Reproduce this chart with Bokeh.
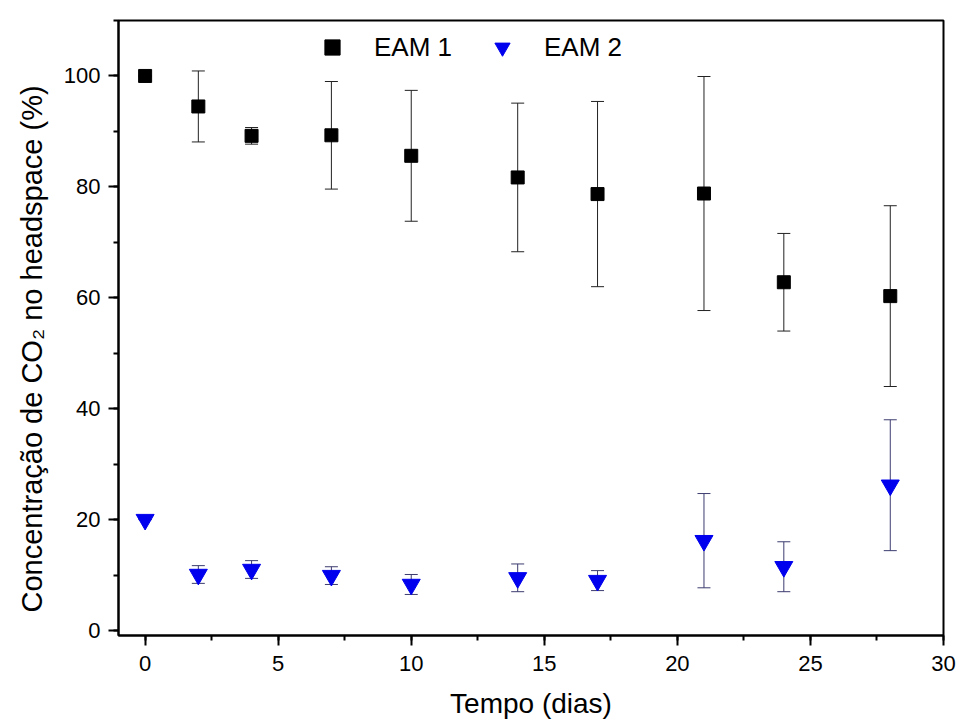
from bokeh.plotting import figure
from bokeh.models import (ColumnDataSource, Whisker, TeeHead, Range1d,
                          SingleIntervalTicker, Legend, LegendItem, Title)
from bokeh.embed import file_html
from bokeh.resources import INLINE

# ---- data ----
days = [0, 2, 4, 7, 10, 14, 17, 21, 24, 28]
eam1 = [100.0, 94.5, 89.2, 89.3, 85.6, 81.7, 78.7, 78.8, 62.8, 60.3]
eam1_err = [0.0, 6.4, 1.5, 9.7, 11.8, 13.4, 16.7, 21.1, 8.8, 16.3]
eam2 = [20.0, 10.1, 11.0, 9.9, 8.3, 9.5, 9.0, 16.2, 11.5, 26.2]
eam2_err = [0.0, 1.6, 1.6, 1.6, 1.8, 2.5, 1.8, 8.5, 4.5, 11.8]
series_names = ["EAM 1", "EAM 2"]
x_title = "Tempo (dias)"
y_title = "Concentração de CO\u2082 no headspace (%)"

FONT = "Liberation Sans"

src1 = ColumnDataSource(dict(x=days, y=eam1,
                             upper=[v + e for v, e in zip(eam1, eam1_err)],
                             lower=[v - e for v, e in zip(eam1, eam1_err)]))
src2 = ColumnDataSource(dict(x=days, y=eam2,
                             upper=[v + e for v, e in zip(eam2, eam2_err)],
                             lower=[v - e for v, e in zip(eam2, eam2_err)]))

p = figure(width=958, height=725, x_range=Range1d(-1, 30), y_range=Range1d(-0.9, 110),
           output_backend="svg", toolbar_location=None,
           min_border_left=118, min_border_right=15, min_border_top=20, min_border_bottom=90)
p.grid.visible = False
p.outline_line_color = "black"
p.outline_line_width = 2
p.background_fill_color = "white"
p.border_fill_color = "white"

for ax in (p.xaxis[0], p.yaxis[0]):
    ax.axis_line_width = 2
    ax.axis_line_color = "black"
    ax.major_tick_line_width = 2
    ax.minor_tick_line_width = 2
    ax.major_tick_in = 0
    ax.minor_tick_in = 0
    ax.major_tick_out = 10
    ax.minor_tick_out = 5
    ax.major_label_text_font = FONT
    ax.major_label_text_font_size = "22px"
    ax.major_label_text_color = "black"

p.xaxis.ticker = SingleIntervalTicker(interval=5, num_minor_ticks=2)
p.yaxis.ticker = SingleIntervalTicker(interval=20, num_minor_ticks=2)
p.xaxis.major_label_standoff = 10
p.yaxis.major_label_standoff = 8

p.xaxis.axis_label = x_title
p.xaxis.axis_label_text_font = FONT
p.xaxis.axis_label_text_font_style = "normal"
p.xaxis.axis_label_text_font_size = "28px"
p.xaxis.axis_label_text_color = "black"
p.xaxis.axis_label_standoff = 14

p.add_layout(Title(text=y_title, align="left", offset=23, text_font=FONT,
                   text_font_size="29px", text_font_style="normal",
                   text_color="black", standoff=26), "left")

# error bars
w1 = Whisker(source=src1, base="x", upper="upper", lower="lower",
             line_color="#222222", line_width=1, level="underlay",
             upper_head=TeeHead(size=13, line_color="#222222", line_width=1),
             lower_head=TeeHead(size=13, line_color="#222222", line_width=1))
w2 = Whisker(source=src2, base="x", upper="upper", lower="lower",
             line_color="#3c3c70", line_width=1, level="underlay",
             upper_head=TeeHead(size=13, line_color="#3c3c70", line_width=1),
             lower_head=TeeHead(size=13, line_color="#3c3c70", line_width=1))
p.add_layout(w1)
p.add_layout(w2)

r1 = p.scatter("x", "y", source=src1, marker="square", size=13,
               fill_color="black", line_color="black")
r2 = p.scatter("x", "y", source=src2, marker="inverted_triangle", size=18,
               fill_color="#0000ee", line_color="#0000ee")

legend = Legend(items=[LegendItem(label=series_names[0], renderers=[r1]),
                       LegendItem(label=series_names[1], renderers=[r2])],
                orientation="horizontal", location=(195, 569),
                glyph_width=38, glyph_height=38, label_standoff=23, spacing=31,
                padding=0, margin=0, border_line_alpha=0, background_fill_alpha=0,
                label_text_font=FONT, label_text_font_size="26px",
                label_text_color="black")
p.add_layout(legend)

open("out.html", "w").write(file_html(p, INLINE))
